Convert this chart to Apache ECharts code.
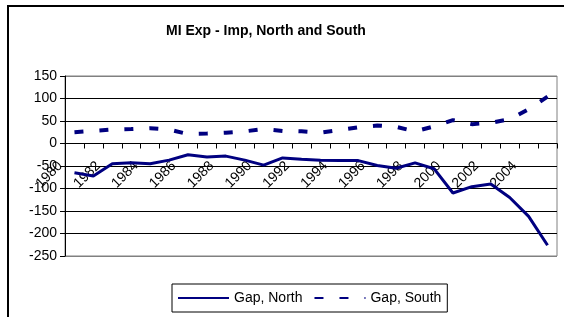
<!DOCTYPE html>
<html>
<head>
<meta charset="utf-8">
<script src="https://cdn.jsdelivr.net/npm/echarts@6/dist/echarts.min.js"></script>
<style>
  html, body { margin: 0; padding: 0; background: #fff; }
  #wrap { position: relative; width: 564px; height: 317px; }
  #chartDom { width: 564px; height: 317px; }
  #frame { position: absolute; left: 7px; top: 5px; right: 0; bottom: 0;
           border-left: 2px solid #000; border-top: 2px solid #000; pointer-events: none; }
</style>
</head>
<body>
<div id="wrap">
  <div id="chartDom"></div>
  <div id="frame"></div>
</div>
<script>
const years = ["1980", "1981", "1982", "1983", "1984", "1985", "1986", "1987", "1988", "1989",
  "1990", "1991", "1992", "1993", "1994", "1995", "1996", "1997", "1998", "1999",
  "2000", "2001", "2002", "2003", "2004", "2005"];
const gapNorth = [-65, -72, -45, -43, -45, -37, -25, -30, -28, -37,
  -48, -32, -35, -37, -38, -38, -49, -55, -43, -56,
  -110, -96, -90, -120, -162, -226];
const gapSouth = [25, 28, 31, 32, 34, 31, 21, 22, 24, 27,
  32, 28, 27, 24, 30, 36, 40, 37, 27, 38,
  52, 43, 46, 54, 76, 104];
const yMin = -250, yMax = 150, yStep = 50;

const navy = "#000080";
const fontFam = "Arial, 'Liberation Sans', sans-serif";

const gridTop = 76, gridBottom = 61, chartH = 317;

let myChart = echarts.init(document.getElementById("chartDom"), null, { renderer: "canvas" });

// grey for the plot border (top/bottom), black for the inner gridlines
let splitColors = [];
for (let v = yMin; v <= yMax; v += yStep) {
  splitColors.push(v === yMin || v === yMax ? "#808080" : "#000");
}
// category axis sits on the zero line, labels included
let plotH = chartH - gridTop - gridBottom;
let zeroOffset = -plotH * (0 - yMin) / (yMax - yMin);

let option = {
  animation: false,
  title: {
    text: "MI Exp - Imp, North and South",
    left: 161,
    top: 19,
    textStyle: { fontFamily: fontFam, fontSize: 14, fontWeight: "bold", color: "#000" }
  },
  grid: {
    left: 65,
    right: 7,
    top: gridTop,
    bottom: gridBottom,
    show: true,
    borderColor: "#808080",
    borderWidth: 1
  },
  legend: {
    left: 172,
    top: 284,
    orient: "horizontal",
    itemWidth: 51,
    itemHeight: 14,
    itemGap: 11,
    padding: [7, 6, 7, 5],
    borderColor: "#000",
    borderWidth: 1,
    itemStyle: { opacity: 0 },
    textStyle: { fontFamily: fontFam, fontSize: 14, color: "#000" },
    data: ["Gap, North", "Gap, South"]
  },
  xAxis: {
    type: "category",
    data: years,
    boundaryGap: true,
    position: "bottom",
    offset: zeroOffset,
    z: 1,
    axisLine: { onZero: false, lineStyle: { color: "#000", width: 1 } },
    axisTick: { show: true, interval: 0, length: 5, inside: false, lineStyle: { color: "#000" } },
    axisLabel: {
      interval: 1,
      rotate: 45,
      margin: 6,
      padding: [0, 20, 0, 0],
      fontFamily: fontFam,
      fontSize: 14,
      color: "#000"
    },
    splitLine: { show: false }
  },
  yAxis: {
    type: "value",
    min: yMin,
    max: yMax,
    interval: yStep,
    axisLine: { show: true, lineStyle: { color: "#000", width: 1 } },
    axisTick: { show: true, length: 5, lineStyle: { color: "#000" } },
    axisLabel: { fontFamily: fontFam, fontSize: 14, color: "#000", margin: 8 },
    splitLine: { show: true, lineStyle: { color: splitColors, width: 1 } }
  },
  series: [
    {
      name: "Gap, North",
      type: "line",
      data: gapNorth,
      symbol: "none",
      showSymbol: false,
      lineStyle: { color: navy, width: 3 },
      itemStyle: { color: navy },
      z: 5
    },
    {
      name: "Gap, South",
      type: "line",
      data: gapSouth,
      symbol: "none",
      showSymbol: false,
      lineStyle: { color: navy, width: 4, type: [9, 16], cap: "butt" },
      itemStyle: { color: navy },
      z: 5
    }
  ]
};

myChart.setOption(option);
</script>
</body>
</html>
